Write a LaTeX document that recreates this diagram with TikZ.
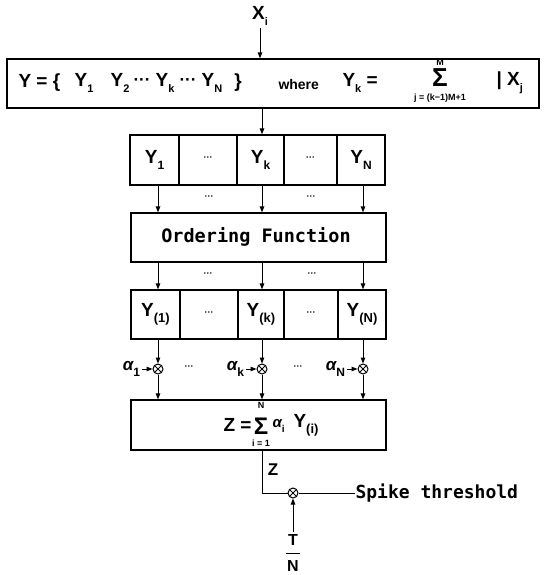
\documentclass[tikz,border=0pt]{standalone}
\usepackage{fontspec}
\setmainfont{Liberation Sans}
\newfontfamily\monof{DejaVu Sans Mono}
\usetikzlibrary{arrows.meta}
\newcommand\sbx[2][11]{\raisebox{-0.32em}{\fontsize{#1}{#1}\selectfont #2}}
\newcommand\dts{\raisebox{0.25em}{\fontsize{9}{9}\selectfont\bfseries ···}}
\newcommand\bdts{{\fontsize{17}{17}\selectfont\bfseries ···}}
\begin{document}
\begin{tikzpicture}[x=1pt,y=-1pt, line width=1pt,
  box/.style={draw, line width=1.2pt, inner sep=0pt},
  arr/.style={-{Triangle[length=6pt,width=4.5pt]}},
  lbl/.style={font=\bfseries\fontsize{19}{20}\selectfont, inner sep=0pt},
  sml/.style={font=\bfseries\fontsize{14}{15}\selectfont, inner sep=0pt},
  mult/.style={circle, draw, inner sep=0pt, minimum size=10pt,
    path picture={\draw[line width=0.8pt] (path picture bounding box.south west)--(path picture bounding box.north east)
      (path picture bounding box.north west)--(path picture bounding box.south east);}},
]
\useasboundingbox (0,0) rectangle (544,575);
% column coordinates
\coordinate (c1) at (158,0);
\coordinate (c2) at (262,0);
\coordinate (c3) at (363,0);

% input
\node[lbl] (xi) at (260,16) {X\sbx{i}};
\node[box, minimum width=532pt, minimum height=49pt] (top) at (273,83.5) {};
\draw[arr] (xi.south) ++(0,2) -- (xi.south |- top.north);

% top box contents
\node[lbl, anchor=west] (yset) at (18,83) {Y = \{};
\node[lbl] (ty1) at (84,83) {Y\sbx{1}};
\node[lbl] (ty2) at (120,83) {Y\sbx{2}};
\node[inner sep=0pt] (td1) at (142,82) {\bdts};
\node[lbl] (ty3) at (165,83) {Y\sbx{k}};
\node[inner sep=0pt] (td2) at (188,82) {\bdts};
\node[lbl] (ty4) at (212,83) {Y\sbx{N}};
\node[lbl] (tbr) at (238,83) {\}};
\node[sml, anchor=west] (where) at (278,84) {where};
\node[lbl, anchor=west] (yk) at (342,83) {Y\sbx{k} =};
\node[lbl, font=\bfseries\fontsize{26}{26}\selectfont] (sig1) at (440,78) {Σ};
\node[inner sep=0pt, font=\bfseries\fontsize{9}{9}\selectfont] (sup1) at (440,62) {M};
\node[inner sep=0pt, font=\bfseries\fontsize{9}{9}\selectfont] (sub1) at (440,98) {j = (k−1)M+1};
\node[lbl, anchor=west] (xj) at (496,83) {| X\sbx{j}};

% row 1
\node[box, minimum width=49pt, minimum height=50pt] (r1a) at (154.5,160) {};
\node[box, minimum width=58pt, minimum height=50pt] (r1b) at (208,160) {};
\node[box, minimum width=47pt, minimum height=50pt] (r1c) at (260.5,160) {};
\node[box, minimum width=53pt, minimum height=50pt] (r1d) at (310.5,160) {};
\node[box, minimum width=48pt, minimum height=50pt] (r1e) at (361,160) {};
\node[lbl] at (r1a) {Y\sbx[12]{1}};
\node[inner sep=0pt] at (r1b) {\dts};
\node[lbl] at (r1c) {Y\sbx[12]{k}};
\node[inner sep=0pt] at (r1d) {\dts};
\node[lbl] at (r1e) {Y\sbx[12]{N}};
\draw[arr] (top.south -| c2) -- (r1c.north -| c2);

% ordering function
\node[box, minimum width=255pt, minimum height=49pt] (ord) at (258.5,237.5) {};
\node[inner sep=0pt, font=\monof\bfseries\fontsize{18.5}{20}\selectfont] (ordt) at (256,237) {Ordering Function};
\draw[arr] (r1a.south -| c1) -- (ord.north -| c1);
\draw[arr] (r1c.south -| c2) -- (ord.north -| c2);
\draw[arr] (r1e.south -| c3) -- (ord.north -| c3);
\node[inner sep=0pt] (d1) at (209,199) {\dts};
\node[inner sep=0pt] (d2) at (311,199) {\dts};

% row 3
\node[box, minimum width=49pt, minimum height=49pt] (r3a) at (155.5,314.5) {};
\node[box, minimum width=58pt, minimum height=49pt] (r3b) at (209,314.5) {};
\node[box, minimum width=46pt, minimum height=49pt] (r3c) at (261,314.5) {};
\node[box, minimum width=54pt, minimum height=49pt] (r3d) at (311,314.5) {};
\node[box, minimum width=48pt, minimum height=49pt] (r3e) at (362,314.5) {};
\node[lbl] at (r3a) {Y\sbx[13]{(1)}};
\node[inner sep=0pt] at (r3b) {\dts};
\node[lbl] at (r3c) {Y\sbx[13]{(k)}};
\node[inner sep=0pt] at (r3d) {\dts};
\node[lbl] at (r3e) {Y\sbx[13]{(N)}};
\draw[arr] (ord.south -| c1) -- (r3a.north -| c1);
\draw[arr] (ord.south -| c2) -- (r3c.north -| c2);
\draw[arr] (ord.south -| c3) -- (r3e.north -| c3);
\node[inner sep=0pt] (d3) at (208,276) {\dts};
\node[inner sep=0pt] (d4) at (312,276) {\dts};

% multipliers
\node[mult] (m1) at (158,369) {};
\node[mult] (m2) at (262,369) {};
\node[mult] (m3) at (363,369) {};
\node[lbl, anchor=east, inner xsep=1.5pt, font=\bfseries\itshape\fontsize{17}{17}\selectfont] (a1) at (142,369) {α\sbx[12]{\upshape 1}};
\node[lbl, anchor=east, inner xsep=1.5pt, font=\bfseries\itshape\fontsize{17}{17}\selectfont] (a2) at (246,369) {α\sbx[12]{\upshape k}};
\node[lbl, anchor=east, inner xsep=1.5pt, font=\bfseries\itshape\fontsize{17}{17}\selectfont] (a3) at (347,369) {α\sbx[12]{\upshape N}};
\draw[arr] (a1.east) -- (m1.west);
\draw[arr] (a2.east) -- (m2.west);
\draw[arr] (a3.east) -- (m3.west);
\draw[arr] (r3a.south -| m1) -- (m1.north);
\draw[arr] (r3c.south -| m2) -- (m2.north);
\draw[arr] (r3e.south -| m3) -- (m3.north);
\node[inner sep=0pt] (d5) at (189,369) {\dts};
\node[inner sep=0pt] (d6) at (298,369) {\dts};

% Z box
\node[box, minimum width=255pt, minimum height=50pt] (zb) at (258.5,425) {};
\draw[arr] (m1.south) -- (zb.north -| m1);
\draw[arr] (m2.south) -- (zb.north -| m2);
\draw[arr] (m3.south) -- (zb.north -| m3);
\node[lbl, anchor=east] (zeq) at (252,425) {Z =};
\node[lbl, font=\bfseries\fontsize{24}{24}\selectfont] (sig2) at (261,426) {Σ};
\node[inner sep=0pt, font=\bfseries\fontsize{9}{9}\selectfont] (sup2) at (261,405) {N};
\node[inner sep=0pt, font=\bfseries\fontsize{9}{9}\selectfont] (sub2) at (261,443) {i = 1};
\node[lbl, anchor=west, font=\bfseries\itshape\fontsize{15}{15}\selectfont] (ai) at (272,426) {α\sbx[10]{\upshape i}};
\node[lbl, anchor=west] (yi) at (293,425) {Y\sbx[13]{(i)}};

% output
\node[mult] (mz) at (293,493) {};
\node[lbl, anchor=west, inner xsep=8pt, font=\monof\bfseries\fontsize{18}{18}\selectfont] (spike) at (347,493) {Spike threshold};
\node[lbl, font=\bfseries\fontsize{17}{17}\selectfont] (zl) at (273,470) {Z};
\draw (zb.south -| c2) |- (mz.west);
\draw (mz.east) -- ([xshift=8pt]spike.west);
\node[inner sep=0pt, font=\bfseries\fontsize{16}{16}\selectfont] (tt) at (293,540) {T};
\node[inner sep=0pt, font=\bfseries\fontsize{16}{16}\selectfont] (tnn) at (293,566) {N};
\draw ([xshift=-7pt]tt.south |- 0,553) -- ([xshift=7pt]tt.south |- 0,553);
\draw[arr] (tt.north) ++(0,-2) -- (mz.south);
\end{tikzpicture}
\end{document}
